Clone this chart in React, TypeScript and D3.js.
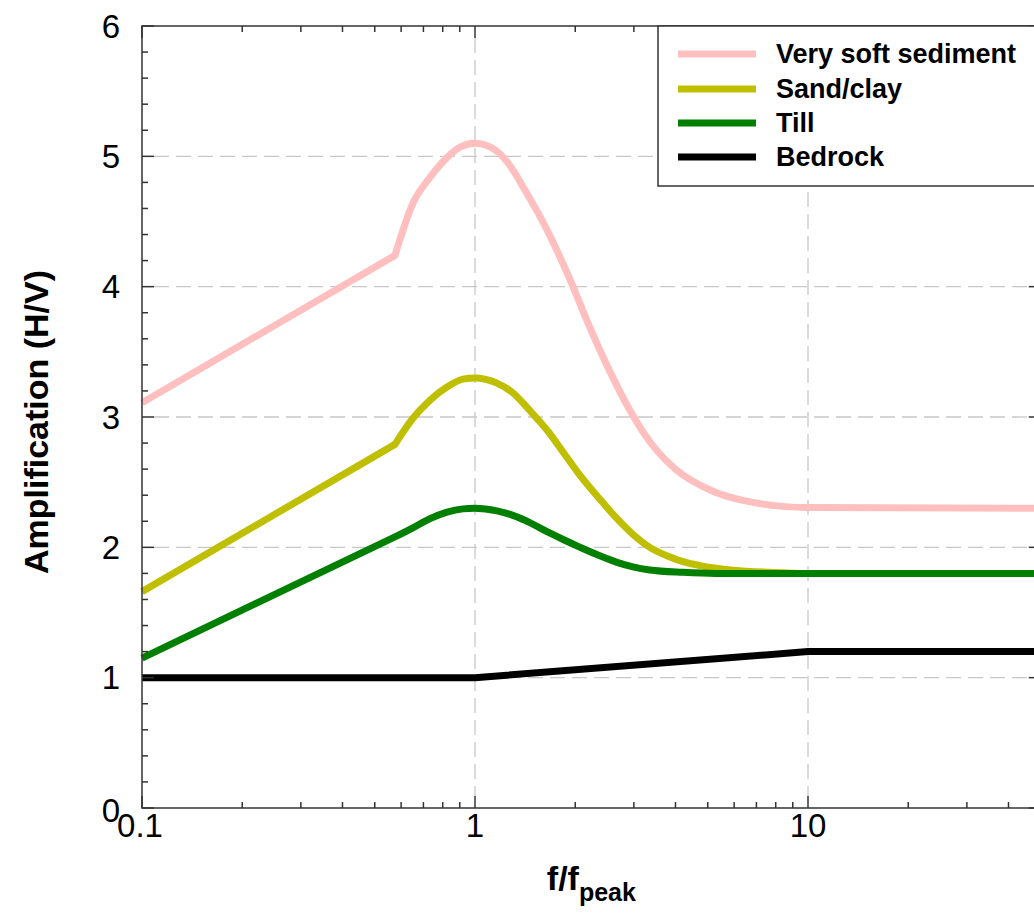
import React from "react";
import * as d3 from "d3";

const softF = [0.1, 0.575, 0.651, 0.733, 0.824, 0.901, 1.0, 1.148, 1.256, 1.413, 1.589, 1.775, 1.955, 2.184, 2.54, 2.92, 3.35, 4.04, 5.08, 6.38, 10, 50];
const softA = [3.11, 4.24, 4.64, 4.84, 4.99, 5.07, 5.10, 5.05, 4.95, 4.74, 4.51, 4.26, 4.02, 3.72, 3.35, 3.05, 2.81, 2.59, 2.44, 2.36, 2.305, 2.30];

const sandF = [0.1, 0.575, 0.651, 0.733, 0.824, 0.92, 1.0, 1.164, 1.30, 1.46, 1.645, 1.84, 2.07, 2.37, 2.67, 2.98, 3.35, 3.77, 4.21, 4.74, 5.95, 8.41, 10, 50];
const sandA = [1.66, 2.79, 2.99, 3.13, 3.23, 3.29, 3.30, 3.26, 3.185, 3.05, 2.90, 2.73, 2.55, 2.37, 2.22, 2.10, 2.00, 1.935, 1.89, 1.86, 1.825, 1.805, 1.80, 1.80];

const tillF = [0.1, 0.575, 0.651, 0.733, 0.824, 0.92, 1.0, 1.164, 1.30, 1.46, 1.645, 1.84, 2.07, 2.37, 2.67, 2.98, 3.35, 4.21, 5.3, 50];
const tillA = [1.15, 2.08, 2.15, 2.22, 2.27, 2.295, 2.30, 2.28, 2.245, 2.19, 2.12, 2.06, 2.00, 1.935, 1.885, 1.85, 1.826, 1.808, 1.80, 1.80];

const rockF = [0.1, 1, 10, 50];
const rockA = [1.0, 1.0, 1.2, 1.2];

const seriesNames = ["Very soft sediment", "Sand/clay", "Till", "Bedrock"];
const seriesColors = ["#ffbfbf", "#bfbf00", "#007f00", "#000000"];

const xMajorTicks = [0.1, 1, 10];
const xTickLabels = ["0.1", "1", "10"];
const xGridTicks = [1, 10];
const yMajorTicks = [0, 1, 2, 3, 4, 5, 6];
const yGridTicks = [1, 2, 3, 4, 5];

const W = 1034;
const H = 915;
const FONT = "'Liberation Sans', Arial, Helvetica, sans-serif";

export default function App() {
  const left = 142;
  const top = 26;
  const bottom = 808;
  const decade = 333;
  const right = left + decade * Math.log10(50 / 0.1);

  const x = d3.scaleLog().domain([0.1, 50]).range([left, right]);
  const y = d3.scaleLinear().domain([0, 6]).range([bottom, top]);

  const series = [
    { f: softF, a: softA, smooth: true },
    { f: sandF, a: sandA, smooth: true },
    { f: tillF, a: tillA, smooth: true },
    { f: rockF, a: rockA, smooth: false },
  ];

  const linear = d3
    .line<[number, number]>()
    .x((d) => x(d[0]))
    .y((d) => y(d[1]))
    .curve(d3.curveLinear);
  const smoothLine = d3
    .line<[number, number]>()
    .x((d) => x(d[0]))
    .y((d) => y(d[1]))
    .curve(d3.curveMonotoneX);

  const pathFor = (s: { f: number[]; a: number[]; smooth: boolean }) => {
    const pts = s.f.map((f, j) => [f, s.a[j]] as [number, number]);
    if (!s.smooth) return linear(pts) || "";
    const head = linear(pts.slice(0, 2)) || "";
    const tail = (smoothLine(pts.slice(1)) || "").replace(/^M/, "L");
    return head + tail;
  };

  const xMinor: number[] = [];
  [0.1, 1, 10].forEach((dec) => {
    for (let k = 2; k <= 9; k++) {
      const v = dec * k;
      if (v <= 50) xMinor.push(v);
    }
  });
  const yMinor: number[] = [];
  for (let i = 0; i <= 30; i++) {
    if (i % 5 !== 0) yMinor.push(i / 5);
  }

  const axisColor = "#333";
  const gridColor = "#c8c8c8";
  const majorLen = 12;
  const minorLen = 6;

  const legX = 658;
  const legY = top;
  const legH = 160;
  const legRows = [54, 89, 123, 157];

  return (
    <svg
      width={W}
      height={H}
      style={{ position: "absolute", left: 0, top: 0, background: "#fff" }}
      fontFamily={FONT}
    >
      <rect x={0} y={0} width={W} height={H} fill="#fff" />
      {/* grid */}
      {xGridTicks.map((t) => (
        <line key={"gx" + t} x1={x(t)} x2={x(t)} y1={top + majorLen} y2={bottom - majorLen}
          stroke={gridColor} strokeWidth={1.3} strokeDasharray="15,7" />
      ))}
      {yGridTicks.map((t) => (
        <line key={"gy" + t} x1={left + majorLen} x2={right - majorLen} y1={y(t)} y2={y(t)}
          stroke={gridColor} strokeWidth={1.3} strokeDasharray="15,7" />
      ))}

      {/* series */}
      {series.map((s, i) => (
        <path key={"s" + i}
          d={pathFor(s)}
          fill="none" stroke={seriesColors[i]} strokeWidth={7}
          strokeLinejoin="round" strokeLinecap="butt" />
      ))}

      {/* frame */}
      <rect x={left} y={top} width={right - left} height={bottom - top}
        fill="none" stroke={axisColor} strokeWidth={1.5} />

      {/* x ticks */}
      {xMajorTicks.map((t) => (
        <g key={"xt" + t}>
          <line x1={x(t)} x2={x(t)} y1={bottom} y2={bottom - majorLen} stroke={axisColor} strokeWidth={1.5} />
          <line x1={x(t)} x2={x(t)} y1={top} y2={top + majorLen} stroke={axisColor} strokeWidth={1.5} />
        </g>
      ))}
      {xMinor.map((t) => (
        <g key={"xm" + t}>
          <line x1={x(t)} x2={x(t)} y1={bottom} y2={bottom - minorLen} stroke={axisColor} strokeWidth={1.5} />
          <line x1={x(t)} x2={x(t)} y1={top} y2={top + minorLen} stroke={axisColor} strokeWidth={1.5} />
        </g>
      ))}
      {/* y ticks */}
      {yMajorTicks.map((t) => (
        <g key={"yt" + t}>
          <line x1={left} x2={left + majorLen} y1={y(t)} y2={y(t)} stroke={axisColor} strokeWidth={1.5} />
          <line x1={right} x2={right - majorLen} y1={y(t)} y2={y(t)} stroke={axisColor} strokeWidth={1.5} />
        </g>
      ))}
      {yMinor.map((t) => (
        <g key={"ym" + t}>
          <line x1={left} x2={left + minorLen} y1={y(t)} y2={y(t)} stroke={axisColor} strokeWidth={1.5} />
          <line x1={right} x2={right - minorLen} y1={y(t)} y2={y(t)} stroke={axisColor} strokeWidth={1.5} />
        </g>
      ))}

      {/* tick labels */}
      {xMajorTicks.map((t, i) => (
        <text key={"xl" + t} x={x(t) - (i === 0 ? 2 : 0)} y={837} fontSize={33} textAnchor="middle" fill="#000">
          {xTickLabels[i]}
        </text>
      ))}
      {yMajorTicks.map((t) => (
        <text key={"yl" + t} x={120} y={y(t) + (t === 0 ? 2 : 0)} dy="0.35em" fontSize={33} textAnchor="end" fill="#000">
          {String(t)}
        </text>
      ))}

      {/* axis titles */}
      <text x={(left + right) / 2} y={890} fontSize={34} fontWeight="bold" textAnchor="middle" fill="#000">
        f/f<tspan fontSize={25} dy={11}>peak</tspan>
      </text>
      <text transform={`translate(48, 422) rotate(-90)`} fontSize={34}
        fontWeight="bold" textAnchor="middle" fill="#000">
        Amplification (H/V)
      </text>

      {/* legend */}
      <rect x={legX} y={legY} width={right - legX} height={legH} fill="#fff" stroke={axisColor} strokeWidth={1.5} />
      {seriesNames.map((name, i) => (
        <g key={"lg" + i}>
          <line x1={678} x2={756} y1={legRows[i]} y2={legRows[i]} stroke={seriesColors[i]} strokeWidth={7} />
          <text x={776} y={legRows[i]} dy="0.35em" fontSize={27} fontWeight="bold" fill="#000">
            {name}
          </text>
        </g>
      ))}
    </svg>
  );
}
